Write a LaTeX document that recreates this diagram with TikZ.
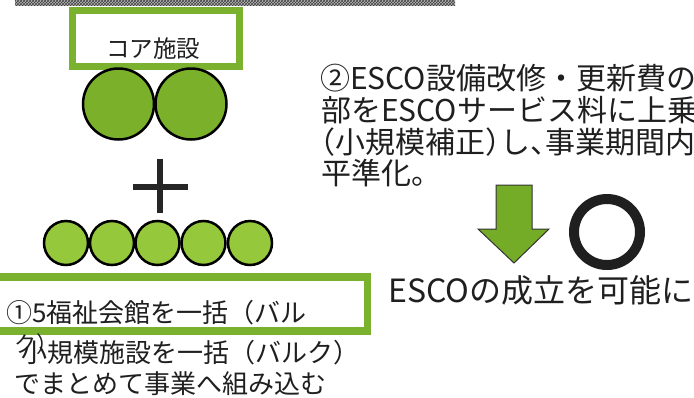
\documentclass[tikz,border=0pt]{standalone}
\usepackage{fontspec}
\newfontfamily\jp{Noto Sans CJK JP}
\newfontfamily\jph[RawFeature=+halt]{Noto Sans CJK JP}
\usetikzlibrary{patterns}
\definecolor{framegreen}{RGB}{122,178,47}
\definecolor{biggreen}{RGB}{122,176,42}
\definecolor{smallgreen}{RGB}{150,200,60}
\definecolor{arrowgreen}{RGB}{116,172,40}
\tikzset{
  frame/.style={draw=framegreen, line width=7.5pt, fill=white},
  bigc/.style={circle, draw=black, line width=2.5pt, fill=biggreen, minimum size=71pt, inner sep=0pt},
  smallc/.style={circle, draw=black, line width=2.5pt, fill=smallgreen, minimum size=44pt, inner sep=0pt},
  txt/.style={inner sep=0pt, anchor=base west, text=black!88},
}
\begin{document}
\begin{tikzpicture}[x=1pt, y=-1pt]
\clip (0,0) rectangle (694,397);
\fill[white] (0,0) rectangle (694,397);
% hatched band
\fill[gray!55] (15,0) rectangle (455,5.5);
\fill[pattern=crosshatch, pattern color=black!75] (15,0) rectangle (455,5.5);
% core box
\draw[frame] (72.5,10.5) rectangle (239.5,66.5);
\node[txt, anchor=base] (core) at (153,57) {\jp\fontsize{23.5}{25}\selectfont コア施設};
% big circles
\node[bigc] (b1) at (118.5,104) {};
\node[bigc] (b2) at (191,104) {};
% plus
\coordinate (pt) at (160,159);
\coordinate (pb) at (160,213);
\coordinate (pl) at (133,187);
\coordinate (pr) at (188,187);
\draw[black!85, line width=6pt] (pt) -- (pb);
\draw[black!85, line width=6pt] (pl) -- (pr);
% small circles
\node[smallc] (s1) at (66,243) {};
\node[smallc] (s2) at (112,243) {};
\node[smallc] (s3) at (157.5,243) {};
\node[smallc] (s4) at (203.5,243) {};
\node[smallc] (s5) at (250,243) {};
% bottom box
\draw[frame] (-10,277) rectangle (367.5,331);
\node[txt] (l1) at (6,322) {\jp\fontsize{26}{28}\selectfont ①5福祉会館を一括（バル};
\node[txt] (l1b) at (14,352) {\jp\fontsize{22}{24}\selectfont ク）};
\node[txt] (l2) at (21,362) {\jp\fontsize{26}{28}\selectfont 小規模施設を一括（バルク）};
\node[txt] (l3) at (14,393) {\jp\fontsize{26}{28}\selectfont でまとめて事業へ組み込む};
% right text
\node[txt] (r1) at (320,89) {\jph\fontsize{30}{32}\selectfont ②ESCO設備改修{\jp・}更新費の};
\node[txt] (r2) at (321,121) {\jph\fontsize{30}{32}\selectfont 部をESCOサービス料に上乗};
\node[txt] (r3) at (320,153) {\jph\fontsize{30}{32}\selectfont （小規模補正）し、事業期間内};
\node[txt] (r4) at (321,184) {\jph\fontsize{30}{32}\selectfont 平準化。};
% arrow
\draw[fill=arrowgreen, draw=black!80, line width=1pt, line join=miter]
  (496,185) -- (532,185) -- (532,229) -- (549,229) -- (514,263) -- (478,229) -- (496,229) -- cycle;
% ring
\node[circle, draw=black!88, line width=10pt, minimum size=66pt, inner sep=0pt] (ring) at (607,232) {};
\node[txt] (res) at (388,302.5) {\jp\fontsize{32}{34}\selectfont ESCOの成立を可能に};
\end{tikzpicture}
\end{document}
